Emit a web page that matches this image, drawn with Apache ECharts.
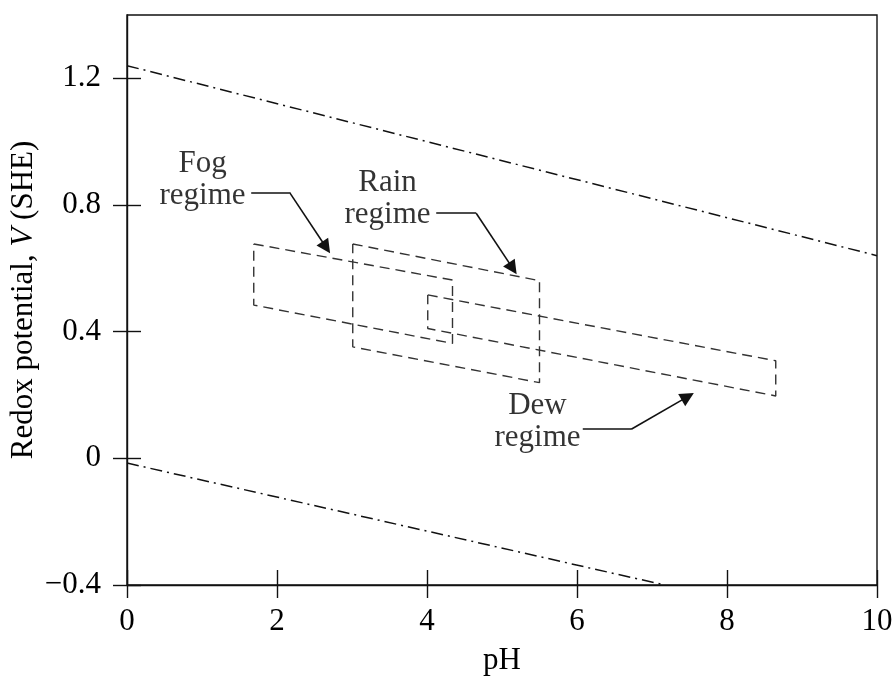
<!DOCTYPE html>
<html>
<head>
<meta charset="utf-8">
<script src="https://cdn.jsdelivr.net/npm/echarts@6/dist/echarts.min.js"></script>
<style>
html,body{margin:0;padding:0;background:#fff;}
#chart{width:896px;height:681px;}
</style>
</head>
<body>
<div id="chart"></div>
<script>
// Axis ticks
const xTickValues = [0, 2, 4, 6, 8, 10];
const yTickValues = [-0.4, 0, 0.4, 0.8, 1.2];

// Water stability limits (dash-dot)
const upperLimitPH = [0, 10];
const upperLimitV = [1.24, 0.64];
const lowerLimitPH = [0, 7.17];
const lowerLimitV = [-0.015, -0.4];

// Regimes (closed dashed outlines)
const fogPH = [1.69, 4.34, 4.34, 1.69, 1.69];
const fogV = [0.677, 0.563, 0.363, 0.484, 0.677];
const rainPH = [3.01, 5.50, 5.50, 3.01, 3.01];
const rainV = [0.677, 0.561, 0.239, 0.352, 0.677];
const dewPH = [4.01, 8.65, 8.65, 4.01, 4.01];
const dewV = [0.516, 0.308, 0.197, 0.410, 0.516];

// Annotation arrows: [start, bend, tip]
const fogArrowPH = [1.656, 2.167, 2.656];
const fogArrowV = [0.84, 0.84, 0.666];
const rainArrowPH = [4.123, 4.656, 5.144];
const rainArrowV = [0.774, 0.774, 0.60];
const dewArrowPH = [6.077, 6.723, 7.477];
const dewArrowV = [0.092, 0.092, 0.195];

// Annotation labels
const labelNames = ['Fog\nregime', 'Rain\nregime', 'Dew\nregime'];
const labelPH = [1.007, 3.473, 5.473];
const labelV = [0.879, 0.818, 0.115];

const FONT = 'Liberation Serif';
const INK = '#000';

function pairs(xs, ys) { return xs.map((x, i) => [x, ys[i]]); }
function fmt(v) { return v < 0 ? '\u2212' + Math.abs(v) : String(v); }

const arrows = [[fogArrowPH, fogArrowV], [rainArrowPH, rainArrowV], [dewArrowPH, dewArrowV]];
const arrowLegs = arrows.map(([xs, ys]) => ({coords: [[xs[0], ys[0]], [xs[1], ys[1]]]}));
const arrowHeads = arrows.map(([xs, ys]) => ({coords: [[xs[1], ys[1]], [xs[2], ys[2]]]}));

const chart = echarts.init(document.getElementById('chart'), null, {renderer: 'canvas'});

const gridRect = {left: 127, right: 19, top: 15, bottom: 96, outerBoundsMode: 'none', containLabel: false};

const axisLineStyle = {color: '#111', width: 1.4};

const option = {
  backgroundColor: '#fff',
  animation: false,
  grid: [
    Object.assign({show: true, borderColor: '#111', borderWidth: 1.4, backgroundColor: 'transparent'}, gridRect),
    Object.assign({show: false}, gridRect)
  ],
  xAxis: [
    {
      type: 'value', gridIndex: 0, min: 0, max: 10, interval: 2,
      name: 'pH', nameLocation: 'middle', nameGap: 60, nameMoveOverlap: false,
      nameTextStyle: {fontFamily: FONT, fontSize: 31, color: INK},
      axisLine: {show: true, onZero: false, lineStyle: axisLineStyle},
      axisTick: {show: true, inside: false, length: 13, lineStyle: axisLineStyle, customValues: xTickValues},
      axisLabel: {show: true, margin: 21, fontFamily: FONT, fontSize: 31, color: INK, formatter: fmt, customValues: xTickValues},
      splitLine: {show: false}
    },
    {
      type: 'value', gridIndex: 1, min: 0, max: 10, interval: 2,
      axisLine: {show: false, onZero: false},
      axisTick: {show: true, inside: true, length: 15, lineStyle: axisLineStyle, customValues: xTickValues},
      axisLabel: {show: false},
      splitLine: {show: false}
    }
  ],
  yAxis: [
    {
      type: 'value', gridIndex: 0, min: -0.4, max: 1.4,
      name: 'Redox potential, {i|V} (SHE)', nameLocation: 'middle', nameGap: 88, nameMoveOverlap: false,
      nameTextStyle: {fontFamily: FONT, fontSize: 31, color: INK,
        rich: {i: {fontFamily: FONT, fontSize: 31, fontStyle: 'italic', color: INK}}},
      axisLine: {show: true, onZero: false, lineStyle: axisLineStyle},
      axisTick: {show: true, inside: false, length: 14, lineStyle: axisLineStyle, customValues: yTickValues},
      axisLabel: {show: true, margin: 26, fontFamily: FONT, fontSize: 31, color: INK, formatter: fmt, customValues: yTickValues},
      splitLine: {show: false}
    },
    {
      type: 'value', gridIndex: 1, min: -0.4, max: 1.4,
      axisLine: {show: false, onZero: false},
      axisTick: {show: true, inside: true, length: 14, lineStyle: axisLineStyle, customValues: yTickValues},
      axisLabel: {show: false},
      splitLine: {show: false}
    }
  ],
  series: [
    {type: 'line', name: 'upper', data: pairs(upperLimitPH, upperLimitV), symbol: 'none',
     lineStyle: {color: '#111', width: 1.5, type: [12, 5, 2, 5]}},
    {type: 'line', name: 'lower', data: pairs(lowerLimitPH, lowerLimitV), symbol: 'none',
     lineStyle: {color: '#111', width: 1.5, type: [12, 5, 2, 5]}},
    {type: 'line', name: 'Fog', data: pairs(fogPH, fogV), symbol: 'none',
     lineStyle: {color: '#333', width: 1.4, type: [10, 6]}},
    {type: 'line', name: 'Rain', data: pairs(rainPH, rainV), symbol: 'none',
     lineStyle: {color: '#333', width: 1.4, type: [10, 6]}},
    {type: 'line', name: 'Dew', data: pairs(dewPH, dewV), symbol: 'none',
     lineStyle: {color: '#333', width: 1.4, type: [10, 6]}},
    {type: 'lines', coordinateSystem: 'cartesian2d',
     symbol: ['none', 'none'],
     lineStyle: {color: '#111', width: 1.6, opacity: 1, curveness: 0},
     data: arrowLegs},
    {type: 'lines', coordinateSystem: 'cartesian2d',
     symbol: ['none', 'triangle'], symbolSize: 14,
     lineStyle: {color: '#111', width: 1.6, opacity: 1, curveness: 0},
     data: arrowHeads},
    {type: 'scatter', symbolSize: 1, itemStyle: {color: '#fff'},
     data: labelNames.map((n, i) => ({name: n, value: [labelPH[i], labelV[i]]})),
     label: {show: true, position: 'inside', formatter: p => p.name,
       fontFamily: FONT, fontSize: 31, lineHeight: 32, color: INK, align: 'center',
       textBorderWidth: 0, textBorderColor: 'transparent'}}
  ]
};

chart.setOption(option);
</script>
</body>
</html>
